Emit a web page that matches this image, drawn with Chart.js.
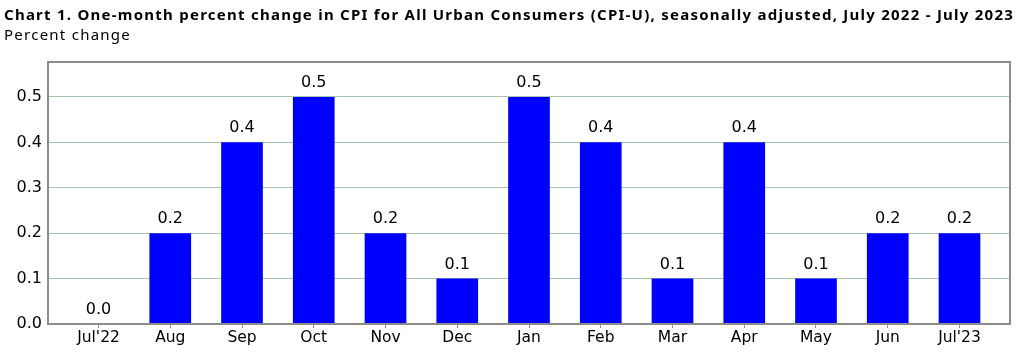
<!DOCTYPE html>
<html><head><meta charset="utf-8">
<script src="https://cdn.jsdelivr.net/npm/chart.js@4"></script>
<style>
html,body{margin:0;padding:0;background:#fff;}
#wrap{position:relative;width:1023px;height:355px;}
#c{position:absolute;left:0;top:0;}
.t{position:absolute;left:4px;font-family:'Noto Sans',sans-serif;font-size:15px;line-height:20px;letter-spacing:1.25px;color:#000;white-space:nowrap;}
#title{top:3.5px;font-weight:bold;}
#sub{top:24px;}
</style>
</head><body><div id="wrap"><canvas id="c" width="1023" height="355"></canvas>
<div class="t" id="title"></div><div class="t" id="sub"></div></div>
<script>
const categories = ["Jul'22","Aug","Sep","Oct","Nov","Dec","Jan","Feb","Mar","Apr","May","Jun","Jul'23"];
const values = [0.0,0.2,0.4,0.5,0.2,0.1,0.5,0.4,0.1,0.4,0.1,0.2,0.2];
const yTicks = [0.0,0.1,0.2,0.3,0.4,0.5];
const titleText = "Chart 1. One-month percent change in CPI for All Urban Consumers (CPI-U), seasonally adjusted, July 2022 - July 2023";
const subtitleText = "Percent change";

document.getElementById('title').textContent = titleText;
document.getElementById('sub').textContent = subtitleText;

const FONT = "'DejaVu Sans', Verdana, sans-serif";

const labelPlugin = {
  id: 'labels',
  afterDatasetsDraw(chart) {
    const ctx = chart.ctx;
    const meta = chart.getDatasetMeta(0);
    ctx.save();
    ctx.font = "16px " + FONT;
    ctx.fillStyle = '#000';
    ctx.textAlign = 'center';
    ctx.textBaseline = 'alphabetic';
    meta.data.forEach((el, i) => {
      ctx.fillText(values[i].toFixed(1), el.x, el.y - 10);
    });
    ctx.restore();
  }
};
const borderPlugin = {
  id: 'frame',
  afterDraw(chart) {
    const a = chart.chartArea, ctx = chart.ctx;
    ctx.save();
    ctx.strokeStyle = '#8c8c8c';
    ctx.lineWidth = 2;
    ctx.strokeRect(a.left, a.top, a.right - a.left, a.bottom - a.top);
    ctx.restore();
  }
};

new Chart(document.getElementById('c'), {
  type: 'bar',
  data: { datasets: [{ data: values.map((v, i) => ({ x: i, y: v })), backgroundColor: '#0000ff', borderWidth: 0, barPercentage: 0.581, categoryPercentage: 1.0 }] },
  plugins: [labelPlugin, borderPlugin],
  options: {
    responsive: false, animation: false,
    layout: { padding: { left: 0, right: 13, top: 62, bottom: 0 } },
    plugins: { legend: { display: false }, tooltip: { enabled: false } },
    scales: {
      x: {
        type: 'linear', offset: false, min: -0.704, max: categories.length - 1 + 0.704,
        afterBuildTicks(s) { s.ticks = categories.map((_, i) => ({ value: i })); },
        grid: { display: true, offset: false, drawOnChartArea: false, drawTicks: true, tickLength: 4, color: '#8c8c8c', lineWidth: 1 },
        border: { display: false },
        ticks: { color: '#000', font: { family: FONT, size: 15.5 }, padding: 1, maxRotation: 0, autoSkip: false, callback: (v) => categories[Math.round(v)] },
        afterFit(s) { s.height = 31; }
      },
      y: {
        min: 0, max: 0.577,
        afterBuildTicks(s) { s.ticks = yTicks.map(v => ({ value: v })); },
        grid: { color: '#a9c6a9', lineWidth: 1, borderDash: [1, 1], drawTicks: false },
        border: { display: false },
        ticks: { color: '#000', font: { family: FONT, size: 16 }, padding: 6, callback: v => Number(v).toFixed(1) },
        afterFit(s) { s.width = 48; }
      }
    }
  }
});
</script></body></html>
